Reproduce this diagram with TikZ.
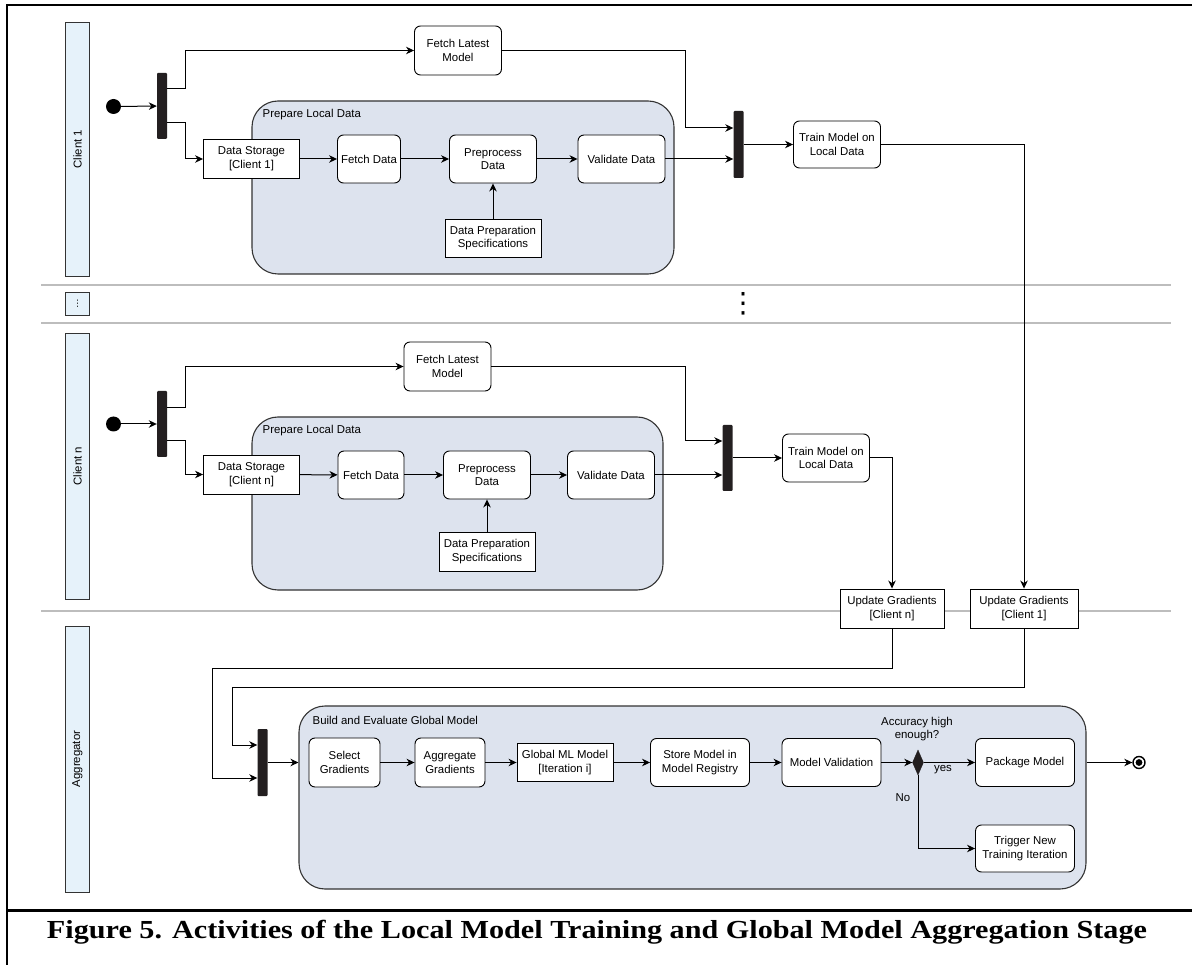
\documentclass[tikz,border=0pt]{standalone}
\usepackage{fontspec}
\usepackage{graphicx}
\setmainfont{Liberation Sans}
\newfontfamily\captionfont{Liberation Serif}
\newfontfamily\symfont{DejaVu Sans}
\usetikzlibrary{arrows.meta,shapes.geometric,calc}

\definecolor{lanefill}{HTML}{E6F2FA}
\definecolor{groupfill}{HTML}{DDE3EE}
\definecolor{barfill}{HTML}{231F20}
\definecolor{sepgray}{HTML}{BDBDBD}
\definecolor{edgegray}{HTML}{333333}

\begin{document}
\begin{tikzpicture}[x=1pt,y=-1pt,
  font=\fontsize{11.4}{13.6}\selectfont,
  lane/.style={draw=edgegray, fill=lanefill, line width=0.9pt, inner sep=0pt, minimum height=23.5pt, rotate=90},
  group/.style={draw=edgegray, fill=groupfill, line width=1.1pt, rounded corners=26pt, inner sep=0pt},
  grouplabel/.style={anchor=west, inner sep=0pt},
  act/.style={draw=black, fill=white, line width=0.9pt, rounded corners=6pt, align=center, inner sep=1pt},
  obj/.style={draw=black, fill=white, line width=0.9pt, align=center, inner sep=1pt},
  bar/.style={fill=barfill, rounded corners=1pt, minimum width=10pt, inner sep=0pt},
  startnode/.style={circle, fill=black, minimum size=15pt, inner sep=0pt},
  flow/.style={draw=black, line width=1pt, -{Stealth[length=8pt,width=7.5pt,inset=2.5pt]}},
  sep/.style={draw=sepgray, line width=2pt},
  frame/.style={draw=black, line width=2.2pt},
]
\useasboundingbox (0,0) rectangle (1192,965);

% outer frame and caption rule
\draw[frame] (7,965) -- (7,5) -- (1192,5);
\draw[frame] (7,910.5) -- (1192,910.5);

% lane separators
\draw[sep] (41,285) -- (1171,285);
\draw[sep] (41,323) -- (1171,323);
\draw[sep] (41,611) -- (1171,611);

% lane headers
\node[lane, minimum width=254pt] (lane1) at (77.5,149) {Client 1};
\node[lane, minimum width=23pt] (lanedots) at (77.5,303.5) {};
\node[inner sep=0pt] (dotsmark) at (lanedots) {\symfont\fontsize{9}{9}\selectfont ⋮};
\node[lane, minimum width=266pt] (lanen) at (77.5,466) {Client n};
\node[lane, minimum width=266pt] (lanea) at (77.5,759) {Aggregator};

% elided clients
\node[inner sep=0pt] (moreclients) at (743,303.5) {\symfont\fontsize{28}{28}\selectfont ⋮};

% ---------------- Client 1 ----------------
\node[startnode] (start1) at (113.5,106.5) {};
\node[bar, minimum height=66pt] (fork1) at (162,106) {};
\node[act, minimum width=87pt, minimum height=49pt] (flm1) at (458,50.5) {Fetch Latest\\Model};
\node[group, minimum width=422pt, minimum height=173pt] (prep1) at (463,187.5) {};
\node[grouplabel] (prep1lbl) at ($(prep1.north west)+(11,14)$) {Prepare Local Data};
\node[obj, minimum width=96pt, minimum height=39pt] (ds1) at (251.5,159) {Data Storage\\{[Client 1]}};
\node[act, minimum width=63pt, minimum height=48pt] (fd1) at (369,159) {Fetch Data};
\node[act, minimum width=87pt, minimum height=48pt] (pp1) at (493,159) {Preprocess\\Data};
\node[act, minimum width=87pt, minimum height=48pt] (vd1) at (621.5,159) {Validate Data};
\node[obj, minimum width=96pt, minimum height=38pt] (dps1) at (493,238) {Data Preparation\\Specifications};
\node[bar, minimum height=67pt] (join1) at (738.5,144.5) {};
\node[act, minimum width=87pt, minimum height=47pt] (tr1) at (837,144.5) {Train Model on\\Local Data};

% ---------------- Client n ----------------
\node[startnode] (startn) at (113.5,424) {};
\node[bar, minimum height=66pt] (forkn) at (162,424) {};
\node[act, minimum width=87pt, minimum height=49pt] (flmn) at (447.5,366.5) {Fetch Latest\\Model};
\node[group, minimum width=411pt, minimum height=173pt] (prepn) at (457.5,503.5) {};
\node[grouplabel] (prepnlbl) at ($(prepn.north west)+(11,14)$) {Prepare Local Data};
\node[obj, minimum width=96pt, minimum height=39pt] (dsn) at (251.5,474.5) {Data Storage\\{[Client n]}};
\node[act, minimum width=66pt, minimum height=48pt] (fdn) at (371,475) {Fetch Data};
\node[act, minimum width=87pt, minimum height=48pt] (ppn) at (487,475) {Preprocess\\Data};
\node[act, minimum width=87pt, minimum height=48pt] (vdn) at (611,475) {Validate Data};
\node[obj, minimum width=96pt, minimum height=39pt] (dpsn) at (487,551.5) {Data Preparation\\Specifications};
\node[bar, minimum height=66pt] (joinn) at (727.5,458) {};
\node[act, minimum width=87pt, minimum height=48pt] (trn) at (826,458) {Train Model on\\Local Data};

% gradient objects on the lane border
\node[obj, minimum width=104pt, minimum height=39pt] (ugn) at (892,608.5) {Update Gradients\\{[Client n]}};
\node[obj, minimum width=108pt, minimum height=39pt] (ug1) at (1024,608.5) {Update Gradients\\{[Client 1]}};

% ---------------- Aggregator ----------------
\node[bar, minimum height=67pt] (aggbar) at (262.5,762.5) {};
\node[group, minimum width=787pt, minimum height=183pt] (bld) at (692.5,797.5) {};
\node[grouplabel] (bldlbl) at ($(bld.north west)+(14,15)$) {Build and Evaluate Global Model};
\node[act, minimum width=71pt, minimum height=49pt] (sel) at (344.5,762.5) {Select\\Gradients};
\node[act, minimum width=70pt, minimum height=49pt] (agg) at (450,762.5) {Aggregate\\Gradients};
\node[obj, minimum width=96pt, minimum height=38pt] (gml) at (565,762.5) {Global ML Model\\{[Iteration i]}};
\node[act, minimum width=99pt, minimum height=48pt] (smr) at (700,762.5) {Store Model in\\Model Registry};
\node[act, minimum width=99pt, minimum height=48pt] (mv) at (831.5,762.5) {Model Validation};
\node[diamond, fill=barfill, draw=barfill, minimum width=11pt, minimum height=25pt, inner sep=0pt] (dec) at (918,762.5) {};
\node[align=center, inner sep=0pt] (acc) at (917,729) {Accuracy high\\enough?};
\node[act, minimum width=99pt, minimum height=48pt] (pkg) at (1025,762.5) {Package Model};
\node[act, minimum width=99pt, minimum height=47pt] (trig) at (1025,848.5) {Trigger New\\Training Iteration};
\node[inner sep=0pt] (yes) at (943,770) {yes};
\node[inner sep=0pt] (no) at (903,798) {No};
\node[circle, draw=black, fill=white, line width=1.4pt, minimum size=12pt, inner sep=0pt] (fin) at (1139,762.5) {};
\fill[black] (fin.center) circle (3.4);

% ---------------- connectors: Client 1 ----------------
\draw[flow] (start1) -- (fork1);
\draw[flow] ([yshift=17pt]fork1.east) -- ++(18,0) |- (flm1);
\draw[flow] ([yshift=-17pt]fork1.east) -- ++(18,0) |- (ds1);
\draw[flow] (ds1) -- (fd1);
\draw[flow] (fd1) -- (pp1);
\draw[flow] (pp1) -- (vd1);
\draw[flow] (dps1) -- (pp1);
\draw[flow] (flm1.east) -- (flm1.east -| 685,0) |- ([yshift=16.5pt]join1.west);
\draw[flow] (vd1) -- (vd1 -| join1.west);
\draw[flow] (join1) -- (tr1);
\draw[flow] (tr1) -| (ug1);

% ---------------- connectors: Client n ----------------
\draw[flow] (startn) -- (forkn);
\draw[flow] ([yshift=16pt]forkn.east) -- ++(18,0) |- (flmn);
\draw[flow] ([yshift=-17pt]forkn.east) -- ++(18,0) |- (dsn);
\draw[flow] (dsn) -- (fdn);
\draw[flow] (fdn) -- (ppn);
\draw[flow] (ppn) -- (vdn);
\draw[flow] (dpsn) -- (ppn);
\draw[flow] (flmn.east) -- (flmn.east -| 685,0) |- ([yshift=17pt]joinn.west);
\draw[flow] (vdn) -- (vdn -| joinn.west);
\draw[flow] (joinn) -- (trn);
\draw[flow] (trn) -| (ugn);

% ---------------- connectors: Aggregator ----------------
\draw[flow] (ugn.south) -- (ugn.south |- 0,668) -| (212.5,778) -- (aggbar.west |- 0,778);
\draw[flow] (ug1.south) -- (ug1.south |- 0,687) -| (232,745) -- (aggbar.west |- 0,745);
\draw[flow] (aggbar) -- (aggbar -| bld.west);
\draw[flow] (sel) -- (agg);
\draw[flow] (agg) -- (gml);
\draw[flow] (gml) -- (smr);
\draw[flow] (smr) -- (mv);
\draw[flow] (mv) -- (dec);
\draw[flow] (dec) -- (pkg);
\draw[flow] (dec) |- (trig);
\draw[flow] (bld.east |- pkg) -- (fin);

% caption
\node[anchor=base, inner sep=0pt] (caption) at (597,938.3) {\resizebox{1100pt}{\height}{\captionfont\bfseries\fontsize{26}{31}\selectfont Figure 5. Activities of the Local Model Training and Global Model Aggregation Stage}};
\end{tikzpicture}
\end{document}
